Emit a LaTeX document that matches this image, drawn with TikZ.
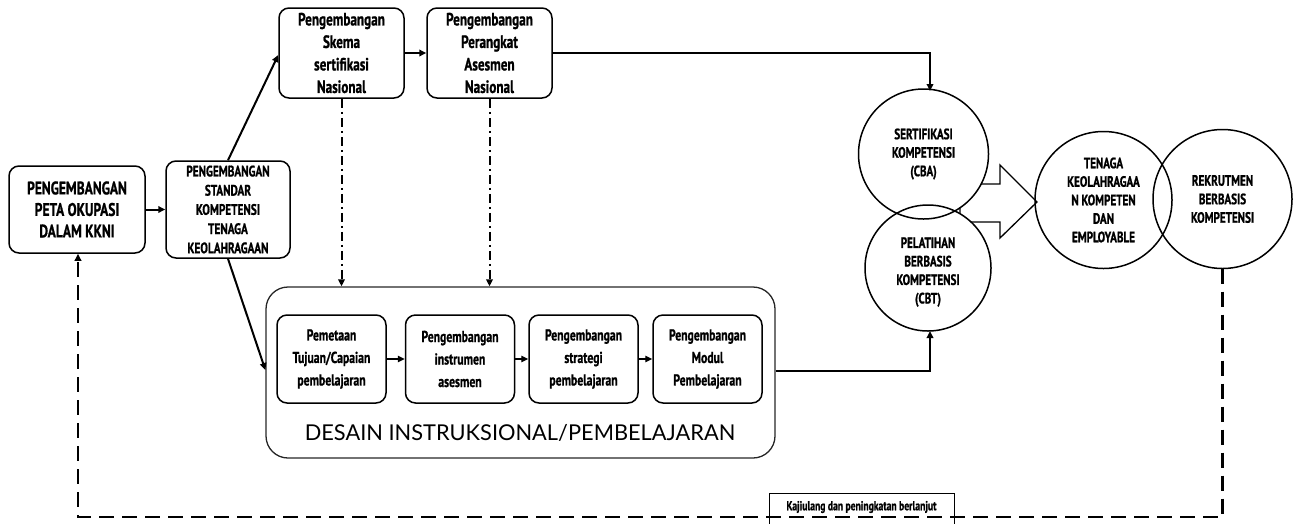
\documentclass[tikz,border=0pt]{standalone}
\usepackage{fontspec}
\setmainfont{PT Sans}
\newfontfamily\cond[FakeStretch=0.74, FakeBold=1.0]{PT Sans}
\newfontfamily\geo{Lato}
\usetikzlibrary{arrows.meta}
\tikzset{
  box/.style={draw, line width=1.5pt, rounded corners=10pt, align=center, inner sep=0pt,
    font=\cond\bfseries\fontsize{17.8}{22.5}\selectfont},
  inbox/.style={box, font=\cond\bfseries\fontsize{15.8}{22.5}\selectfont},
  capbox/.style={box, font=\cond\bfseries\fontsize{18.2}{21.5}\selectfont},
  smallcap/.style={box, font=\cond\bfseries\fontsize{15.2}{19.2}\selectfont},
  circ/.style={circle, align=center, inner sep=0pt, font=\cond\bfseries\fontsize{15}{18.5}\selectfont},
  ring/.style={draw, line width=1.5pt},
  arr/.style={line width=2pt, -{Triangle[length=7pt,width=6.5pt]}},
  thinarr/.style={line width=1.3pt, -{Triangle[length=7pt,width=6.5pt]}},
  dd/.style={line width=2pt, dash pattern=on 9pt off 4pt on 2pt off 4pt, -{Triangle[length=7pt,width=6.5pt]}},
  fb/.style={line width=2.4pt, dash pattern=on 15pt off 8pt, -{Triangle[length=7pt,width=6.5pt]}}
}
\begin{document}
\begin{tikzpicture}[x=1pt,y=-1pt]
\useasboundingbox (0,0) rectangle (1295,523);

% left boxes
\node[capbox, minimum width=136pt, minimum height=87pt] (A) at (77,209.5) {PENGEMBANGAN\\PETA OKUPASI\\DALAM KKNI};
\node[smallcap, minimum width=124pt, minimum height=97pt] (B) at (228,209.5) {PENGEMBANGAN\\STANDAR\\KOMPETENSI\\TENAGA\\KEOLAHRAGAAN};
\node[box, minimum width=125pt, minimum height=90pt] (C) at (341.5,53) {Pengembangan\\Skema\\sertifikasi\\Nasional};
\node[box, minimum width=125pt, minimum height=90pt] (D) at (489.5,53) {Pengembangan\\Perangkat\\Asesmen\\Nasional};

% big design box
\node[draw, line width=1.3pt, draw=black!85, rounded corners=22pt, minimum width=509pt, minimum height=171pt, inner sep=0pt] (E) at (520.5,372.5) {};
\node[font=\geo\fontsize{21.8}{24}\selectfont, inner sep=0pt] (Et) at (520,433) {DESAIN INSTRUKSIONAL/PEMBELAJARAN};
\node[inbox, minimum width=109pt, minimum height=88pt] (E1) at (331.5,359) {Pemetaan\\Tujuan/Capaian\\pembelajaran};
\node[inbox, minimum width=109pt, minimum height=88pt] (E2) at (460,359) {Pengembangan\\instrumen\\asesmen};
\node[inbox, minimum width=109pt, minimum height=88pt] (E3) at (583.5,359) {Pengembangan\\strategi\\pembelajaran};
\node[inbox, minimum width=109pt, minimum height=88pt] (E4) at (707.5,359) {Pengembangan\\Modul\\Pembelajaran};

% circles
\node[circ, minimum size=130pt] (S) at (923.5,154) {};
\node[circ, minimum size=126pt] (P) at (928,268) {};
\node[circ, minimum size=137pt] (T) at (1103.5,200) {TENAGA\\KEOLAHRAGAA\\N KOMPETEN\\DAN\\EMPLOYABLE};
\node[circ, minimum size=139pt] (R) at (1222.5,199) {REKRUTMEN\\BERBASIS\\KOMPETENSI};

% hollow block arrow
\draw[line width=1.3pt, fill=white] (960,184) -- (1000,184) -- (1000,165) -- (1037,202) -- (1000,238) -- (1000,222) -- (960,222) -- cycle;
\fill[white] (S.center) circle (64.5pt);
\fill[white] (P.center) circle (62.5pt);
\node[circ] (St) at (S.center) {SERTIFIKASI\\KOMPETENSI\\(CBA)};
\node[circ] (Pt) at ([yshift=-4pt]P.center) {PELATIHAN\\BERBASIS\\KOMPETENSI\\(CBT)};
\draw[ring] (S.center) circle (65pt);
\draw[ring] (P.center) circle (63pt);
\draw[ring] (T.center) circle (68.5pt);
\draw[ring] (R.center) circle (69.5pt);

% connectors
\draw[arr] (B.north) -- (C.south west |- 0,55);
\draw[arr] (A.east) -- (B.west);
\draw[arr] (B.south) -- (E.west |- 0,370);
\draw[arr] (C.east) -- (D.west);
\draw[arr] (D.east) -- (930,53) -- (930,91);
\draw[dd] (C.south) -- (C.south |- E.north);
\draw[dd] (D.south) -- (D.south |- E.north);
\draw[thinarr] (E1.east) -- (E2.west);
\draw[thinarr] (E2.east) -- (E3.west);
\draw[thinarr] (E3.east) -- (E4.west);
\draw[arr] (E.east |- 0,371) -- (930,371) -- (930,331);

% feedback
\coordinate (fb1) at (1222.5,517);
\coordinate (fb2) at (78,517);
\draw[fb] (R.south) -- (fb1) -- (fb2) -- (A.south -| fb2);
\node[draw, line width=0.9pt, minimum width=185pt, minimum height=40pt, anchor=north west, inner sep=0pt] (K) at (769,493) {};
\node[font=\cond\bfseries\fontsize{13}{16}\selectfont, inner sep=0pt] (Kt) at (861.5,507) {Kajiulang dan peningkatan berlanjut};
\end{tikzpicture}
\end{document}
